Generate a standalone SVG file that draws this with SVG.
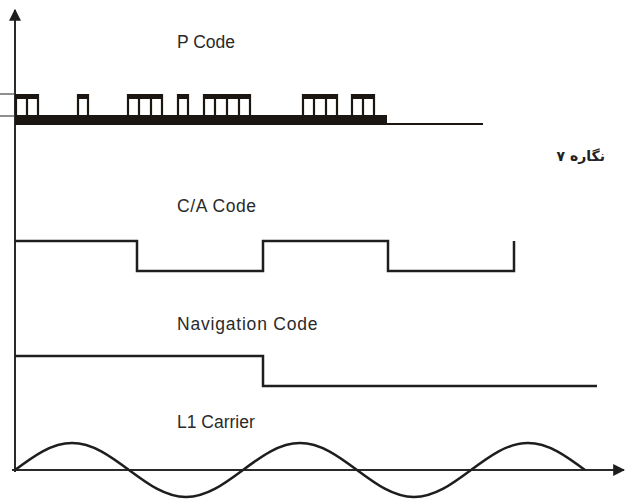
<svg xmlns="http://www.w3.org/2000/svg" width="630" height="499" viewBox="0 0 630 499">
<style>
.sig{fill:none;stroke:#1e1e1e;stroke-width:2.5;stroke-linejoin:miter}
.ax{stroke:#2a2a2a;stroke-width:2;fill:none}
.lbl{font-family:"Liberation Sans",Arial,sans-serif;font-size:17.5px;fill:#2a2a2a}
.pc{fill:#1b1612}
.col{stroke:#1b1612;stroke-width:2.2}
.tick{stroke:#444;stroke-width:1.2}
</style>
<defs>
<marker id="arr" viewBox="0 0 10 10" refX="9" refY="5" markerWidth="6" markerHeight="6" orient="auto" markerUnits="strokeWidth">
<path d="M0,0 L10,5 L0,10 z" fill="#1e1e1e"/>
</marker>
</defs>
<rect width="630" height="499" fill="#ffffff"/>
<g id="axes">
<line class="ax" x1="15" y1="472" x2="15" y2="10" marker-end="url(#arr)"/>
<line class="ax" x1="12" y1="470" x2="624" y2="470" marker-end="url(#arr)"/>
<line class="tick" x1="0" y1="94" x2="15" y2="94"/>
<line class="tick" x1="0" y1="116" x2="15" y2="116"/>
</g>
<g id="p-code">
<rect class="pc" x="15" y="115" width="372" height="10"/>
<line class="col" x1="387" y1="124" x2="483" y2="124"/>
<rect class="pc" x="15" y="94" width="24" height="5"/>
<rect class="pc" x="77" y="94" width="12" height="5"/>
<rect class="pc" x="127" y="94" width="36" height="5"/>
<rect class="pc" x="177" y="94" width="12" height="5"/>
<rect class="pc" x="203" y="94" width="48" height="5"/>
<rect class="pc" x="302" y="94" width="36" height="5"/>
<rect class="pc" x="351" y="94" width="24" height="5"/>
<path class="col" d="M16,94V116M27,94V116M38,94V116 M78,94V116M88,94V116 M128,94V116M139,94V116M151,94V116M162,94V116 M178,94V116M188,94V116 M204,94V116M215,94V116M227,94V116M239,94V116M250,94V116 M303,94V116M314,94V116M326,94V116M337,94V116 M352,94V116M363,94V116M374,94V116"/>
</g>
<g id="ca-code">
<polyline class="sig" points="15,241 137,241 137,271 263,271 263,241 388,241 388,271 514,271 514,241"/>
</g>
<g id="nav-code">
<polyline class="sig" points="15,356 263,356 263,386 597,386"/>
</g>
<g id="l1-carrier">
<path class="sig" stroke-width="2" d="M15,470 C33.6,456.16 51.45,443 72,443 S110.4,456.16 129,470 S165.45,497 186,497 S224.4,483.84 243,470 S279.45,443 300,443 S338.4,456.16 357,470 S393.45,497 414,497 S452.4,483.84 471,470 S507.45,443 528,443 S566.4,456.16 585,470"/>
</g>
<g id="labels">
<text class="lbl" x="177" y="48">P Code</text>
<text class="lbl" x="177" y="212" letter-spacing="0.6">C/A Code</text>
<text class="lbl" x="177" y="330" letter-spacing="0.8">Navigation Code</text>
<text class="lbl" x="177" y="428">L1 Carrier</text>
<text x="605" y="161" direction="rtl" font-family="'DejaVu Sans',sans-serif" font-size="14" font-weight="bold" fill="#222">نگاره ۷</text>
</g>
</svg>
